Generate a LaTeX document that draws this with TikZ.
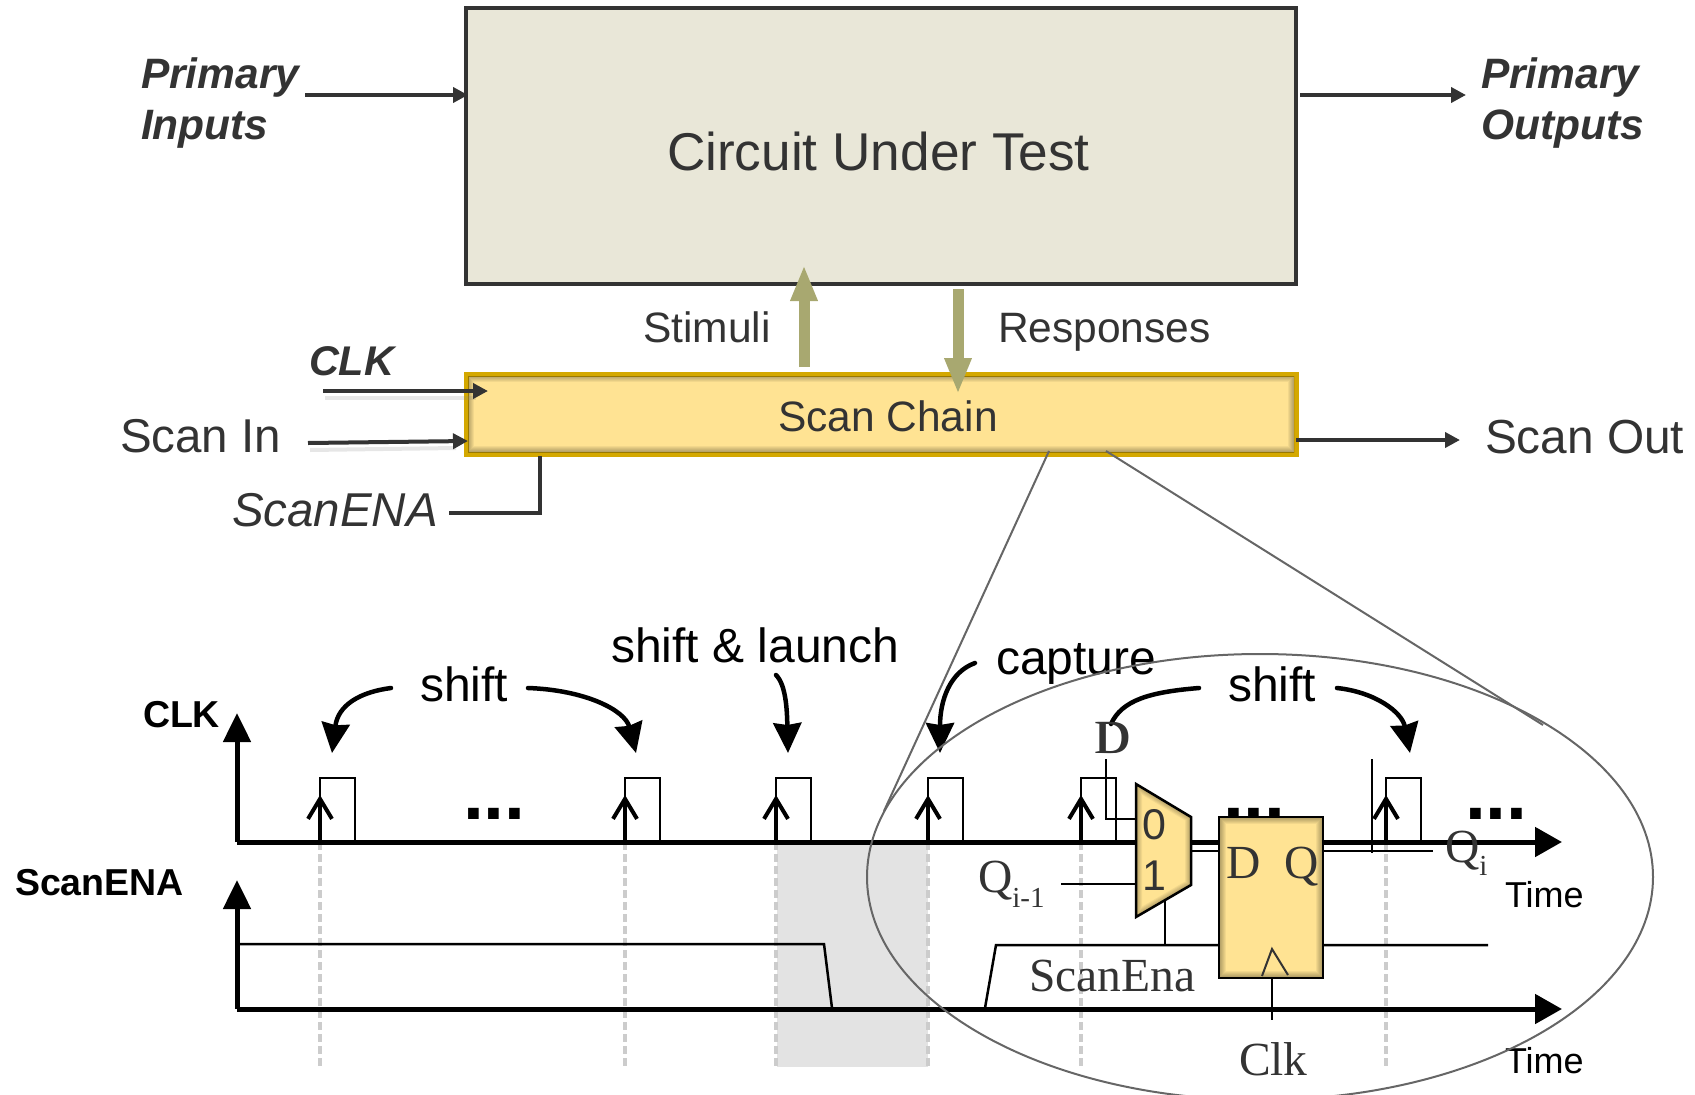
\documentclass[tikz,border=0pt]{standalone}
\usepackage{fontspec}
\setmainfont{Liberation Sans}
\newfontfamily\serifx{Liberation Serif}
\usetikzlibrary{arrows.meta,shapes.geometric,calc}
\definecolor{ink}{HTML}{333333}
\definecolor{cutfill}{HTML}{E9E7D8}
\definecolor{yel}{HTML}{FFE393}
\definecolor{gold}{HTML}{D4A800}
\definecolor{olive}{HTML}{A8A870}
\newcommand{\fsz}[1]{\fontsize{#1}{#1}\selectfont}
\newcommand{\innershade}[1]{%
  \begin{scope}
    \clip #1;
    \foreach \w in {2,4,...,12} {\draw[black,opacity=.05,line width=\w pt] #1;}
  \end{scope}}
\tikzset{
  every node/.style={inner sep=0pt,outer sep=0pt},
  lbl/.style={anchor=base west},
  labtop/.style={lbl,text=ink},
  labbot/.style={lbl,text=black},
  darrow/.style={draw=ink,line width=4pt,-{Triangle[length=15pt,width=15pt]}},
  shadowline/.style={draw=gray,opacity=.2,line width=4pt},
  bigarrow/.style={draw=olive,line width=11pt,-{Triangle[length=36pt,width=25pt]}},
  axis/.style={draw=black,line width=5pt,-{Triangle[length=27pt,width=29pt]}},
  clkmark/.style={draw=black,line width=4pt,-{Straight Barb[length=20pt,width=24pt,line width=4pt]}},
  pulse/.style={draw=black,line width=2.5pt},
  wave/.style={draw=black,line width=2.5pt},
  guide/.style={draw=black!20,line width=4.5pt,dash pattern=on 8pt off 4pt},
  thin wire/.style={draw=black,line width=2pt},
  curvearrow/.style={draw=black,line width=4.5pt,line cap=round,-{Stealth[length=30pt,width=28pt,inset=2pt]}},
  zoomline/.style={draw=black!60,line width=2pt},
  dots/.style={lbl,font=\bfseries\fsz{75}},
  serifl/.style={lbl,font=\serifx\fsz{47.5},text=ink},
}
\begin{document}
\begin{tikzpicture}[x=1pt,y=-1pt]
\useasboundingbox (0,0) rectangle (1695,1095);
% ---------- upper block diagram ----------
\node[draw=ink,fill=cutfill,line width=4pt,minimum width=830pt,minimum height=276pt] (cut) at (881,146) {};
\node[labtop,font=\fsz{53.2}] (cuttext) at (667,170) {Circuit Under Test};
\node[labtop,font=\bfseries\itshape\fontsize{42.5}{51}\selectfont,align=left,anchor=west] (pi) at (141,103) {Primary\\Inputs};
\node[labtop,font=\bfseries\itshape\fontsize{42.5}{51}\selectfont,align=left,anchor=west] (po) at (1481,103) {Primary\\Outputs};
\coordinate (piend) at (305,95);
\coordinate (cutin) at (468,95);
\coordinate (cutout) at (1300,95);
\coordinate (poend) at (1466,95);
\draw[darrow] (piend) -- (cutin);
\draw[darrow] (cutout) -- (poend);
% scan chain
\node[draw=gold,fill=yel,line width=5pt,minimum width=830pt,minimum height=80pt] (chain) at (881,414) {};
\innershade{(468,376) rectangle (1294,452)}
\node[labtop,font=\fsz{42.5}] (chaintext) at (778,431) {Scan Chain};
\node[labtop,font=\fsz{42.5}] (stim) at (643,342) {Stimuli};
\node[labtop,font=\fsz{42.5}] (resp) at (998,342) {Responses};
\coordinate (stimA) at (804,367);
\coordinate (stimB) at (804,265);
\coordinate (respA) at (958,289);
\coordinate (respB) at (958,394);
\draw[bigarrow] (stimA) -- (stimB);
\draw[bigarrow] (respA) -- (respB);
\node[labtop,font=\bfseries\itshape\fsz{41.5}] (clktop) at (309,375) {CLK};
\node[labtop,font=\fsz{47.5}] (scanin) at (120,452) {Scan In};
\node[labtop,font=\fsz{47.8}] (scanout) at (1485,453) {Scan Out};
\node[labtop,font=\itshape\fsz{47.5}] (scanena) at (232,526) {ScanENA};
\coordinate (clkA) at (323,391);
\coordinate (clkB) at (488,391);
\coordinate (siA) at (308,443);
\coordinate (siB) at (468,441);
\coordinate (soA) at (1296,440);
\coordinate (soB) at (1460,440);
\coordinate (seA) at (449,513);
\coordinate (seC) at (540,513);
\coordinate (seB) at (540,456);
\draw[shadowline] ($(clkA)+(2,7)$) -- ($(clkB)+(-12,7)$);
\draw[shadowline] ($(siA)+(2,7)$) -- ($(siB)+(-12,7)$);
\draw[darrow] (clkA) -- (clkB);
\draw[darrow] (siA) -- (siB);
\draw[darrow] (soA) -- (soB);
\draw[draw=ink,line width=4pt] (seA) -- (seC) -- (seB);
% ---------- timing diagram ----------
\fill[black!11] (777,842) rectangle (928,1067);
\foreach \n/\x in {a/320,b/625,c/776,d/928,e/1081,f/1386} {
  \coordinate (g\n) at (\x,842);
  \coordinate (h\n) at (\x,1068);
  \draw[guide] (g\n) -- (h\n);
}
\coordinate (o1) at (237,842);
\coordinate (o2) at (237,1009);
\coordinate (t1) at (1562,842);
\coordinate (t2) at (1562,1009);
\coordinate (up1) at (237,713);
\coordinate (up2) at (237,880);
\draw[axis] (o1) -- (t1);
\draw[axis] (o2) -- (t2);
\draw[axis,-{Triangle[length=29pt,width=27pt]}] (o1) -- (up1);
\draw[axis,-{Triangle[length=29pt,width=27pt]}] (o2) -- (up2);
\foreach \n/\x in {a/320,b/625,c/776,d/928,e/1081,f/1386} {
  \draw[pulse] (\x,842) -- (\x,778) -- (\x+35,778) -- (\x+35,842);
  \coordinate (tip\n) at (\x,795);
  \draw[clkmark] (g\n) -- (tip\n);
}
\draw[wave] (o2 |- 0,944) -- (824,944) -- (832,1008);
\draw[wave] (985,1008) -- (996,945) -- (1488,945);
\node[dots] (dots1) at (463,819) {...};
\node[dots] (dots2) at (1465,819) {...};
\node[dots] (dots3) at (1223,819) {...};
\node[labbot,font=\bfseries\fsz{37.5}] (clkl) at (143,727) {CLK};
\node[labbot,font=\bfseries\fsz{37.5}] (sel) at (15,895) {ScanENA};
\node[labbot,font=\fsz{48}] (s1) at (420,701) {shift};
\node[labbot,font=\fsz{48}] (s2) at (1228,701) {shift};
\node[labbot,font=\fsz{48}] (sl) at (611,662) {shift \& launch};
\node[labbot,font=\fsz{48}] (cap) at (996,674) {capture};
\node[labbot,font=\fsz{36}] (time1) at (1505,907) {Time};
\node[labbot,font=\fsz{36}] (time2) at (1505,1073) {Time};
\coordinate (aA) at (391,688); \coordinate (aB) at (332,753);
\coordinate (bA) at (528,688); \coordinate (bB) at (636,753);
\coordinate (cA) at (776,675); \coordinate (cB) at (788,753);
\coordinate (dA) at (975,663); \coordinate (dB) at (940,753);
\coordinate (eA) at (1199,688); \coordinate (eB) at (1111,724);
\coordinate (fA) at (1337,688); \coordinate (fB) at (1410,753);
\draw[curvearrow] (aA) .. controls (360,692) and (338,705) .. (aB);
\draw[curvearrow] (bA) .. controls (585,690) and (625,710) .. (bB);
\draw[curvearrow] (cA) .. controls (786,685) and (787,710) .. (cB);
\draw[curvearrow] (dA) .. controls (950,672) and (940,700) .. (dB);
\draw[draw=black,line width=4.5pt,line cap=round] (eA) .. controls (1150,692) and (1122,700) .. (eB);
\draw[curvearrow] (fA) .. controls (1375,692) and (1402,712) .. (fB);
% ---------- magnifier ----------
\begin{scope}
\clip (0,0) rectangle (1695,1095);
\node[draw=black!60,line width=2pt,ellipse,minimum width=786pt,minimum height=446pt] (lens) at (1260,877) {};
\end{scope}
\coordinate (zA) at (1049,451); \coordinate (zB) at (884,811);
\coordinate (zC) at (1106,451); \coordinate (zD) at (1543,725);
\draw[zoomline] (zA) -- (zB);
\draw[zoomline] (zC) -- (zD);
% wires of the scan cell
\coordinate (dwA) at (1106,759); \coordinate (dwB) at (1106,819); \coordinate (dwC) at (1136,819);
\draw[thin wire] (dwA) -- (dwB) -- (dwC);
\coordinate (qiA) at (1061,884); \coordinate (qiB) at (1136,884);
\draw[thin wire] (qiA) -- (qiB);
\coordinate (selA) at (1165,900); \coordinate (selB) at (1165,945);
\draw[thin wire] (selA) -- (selB);
\coordinate (mfA) at (1191,851); \coordinate (mfB) at (1219,851);
\draw[thin wire] (mfA) -- (mfB);
\coordinate (qoA) at (1323,851); \coordinate (qoB) at (1433,851);
\draw[thin wire] (qoA) -- (qoB);
\coordinate (vA) at (1372,759); \coordinate (vB) at (1372,853);
\draw[thin wire] (vA) -- (vB);
\coordinate (ckA) at (1272,978); \coordinate (ckB) at (1272,1020);
\draw[thin wire] (ckA) -- (ckB);
% mux
\fill[yel] (1136,784) -- (1191,817) -- (1191,885) -- (1136,917) -- cycle;
\innershade{(1136,784) -- (1191,817) -- (1191,885) -- (1136,917) -- cycle}
\draw[black,line width=2.5pt,line join=miter] (1136,784) -- (1191,817) -- (1191,885) -- (1136,917) -- cycle;
\node[labtop,anchor=base,font=\fsz{43}] (m0) at (1154,839) {0};
\node[labtop,anchor=base,font=\fsz{43}] (m1) at (1154,890) {1};
% flip-flop
\node[draw=black,fill=yel,line width=2.5pt,minimum width=104pt,minimum height=161pt] (ff) at (1271,897.5) {};
\innershade{(1220,818) rectangle (1322,977)}
\node[serifl] (ffd) at (1226,878) {D};
\node[serifl] (ffq) at (1284,878) {Q};
\coordinate (trA) at (1262,976); \coordinate (trB) at (1272,949); \coordinate (trC) at (1288,975);
\draw[draw=ink,line width=2pt] (trA) -- (trB) -- (trC);
\node[serifl] (d1) at (1094,753) {D};
\node[serifl] (d2) at (1096,753) {D};
\node[serifl] (qim) at (978,892) {Q{\fsz{29}\raisebox{-15pt}{i-1}}};
\node[serifl] (qi) at (1445,862) {Q{\fsz{29}\raisebox{-13pt}{i}}};
\node[serifl] (sena) at (1029,991) {ScanEna};
\node[serifl] (clkt) at (1239,1075) {Clk};
\end{tikzpicture}
\end{document}
